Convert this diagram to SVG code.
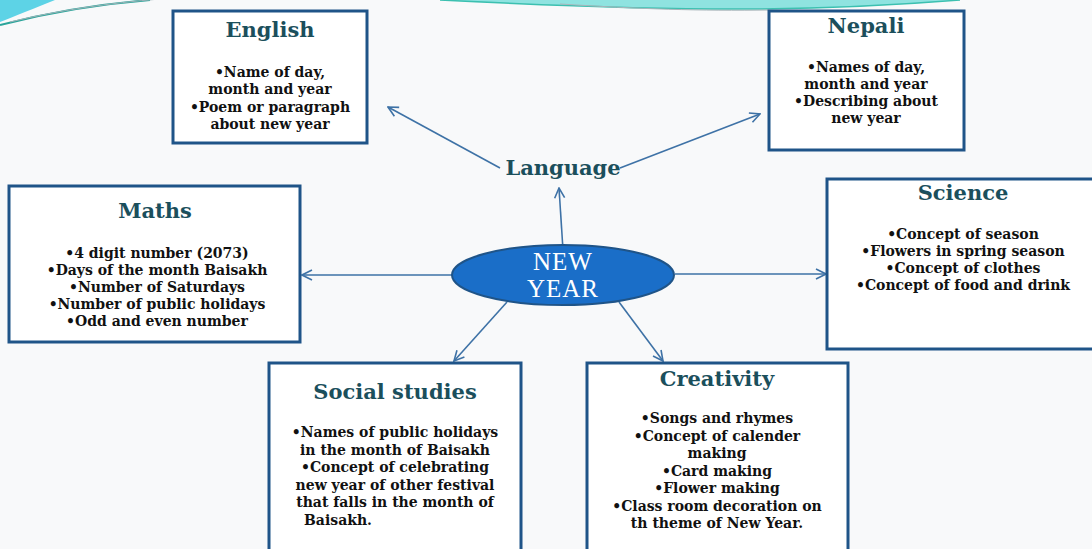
<svg xmlns="http://www.w3.org/2000/svg" width="1092" height="549" viewBox="0 0 1092 549">
<style>
.box{fill:#ffffff;stroke:#1f5488;stroke-width:3}
.title{font-family:"DejaVu Serif",serif;font-size:21px;font-weight:bold;fill:#1b4f5c;text-anchor:middle}
.body{font-family:"DejaVu Serif",serif;font-size:14px;font-weight:bold;fill:#111111;text-anchor:middle}
.conn{stroke:#3e72a6;stroke-width:1.6;fill:none;marker-end:url(#ah)}
</style>
<defs>
<marker id="ah" viewBox="0 0 12 12" refX="11" refY="6" markerWidth="12" markerHeight="12" markerUnits="userSpaceOnUse" orient="auto">
<path d="M1,1 L11,6 L1,11" fill="none" stroke="#3e72a6" stroke-width="1.6"/>
</marker>
</defs>
<rect width="1092" height="549" fill="#f8f9fa"/>
<g id="decoration">
<path d="M0,0 L55,0 C35,8 15,16 0,22 Z" fill="#5dd3e6"/>
<path d="M0,25 C50,12 100,4 150,0" fill="none" stroke="#2aa59a" stroke-width="2"/>
<path d="M10,22 C60,10 110,3 160,-1" fill="none" stroke="#9fb3b8" stroke-width="1"/>
<path d="M440,0 C560,6 660,10 760,9 C850,8 910,4 960,0 Z" fill="#8fe3e0"/>
<path d="M440,0 C560,6 660,10 760,9 C850,8 910,4 960,0" fill="none" stroke="#3cc0b0" stroke-width="1.5"/>
<path d="M560,4 C640,9 700,11 770,10" fill="none" stroke="#a9b6bb" stroke-width="1"/>
</g>
<g id="connectors">
<line class="conn" x1="500" y1="168" x2="388" y2="107"/>
<line class="conn" x1="620" y1="168" x2="760" y2="114"/>
<line class="conn" x1="563" y1="250" x2="559" y2="188"/>
<line class="conn" x1="470" y1="275" x2="302" y2="275"/>
<line class="conn" x1="675" y1="274" x2="826" y2="274"/>
<line class="conn" x1="507" y1="302" x2="454" y2="361"/>
<line class="conn" x1="619" y1="302" x2="663" y2="361"/>
</g>
<g id="language">
<text x="563" y="175" class="title">Language</text>
</g>
<g id="new-year">
<ellipse cx="563" cy="275" rx="111" ry="30" fill="#1a6ec8" stroke="#1f5488" stroke-width="2"/>
<text x="563" y="270" font-family="Liberation Serif,serif" font-size="25" letter-spacing="1" fill="#ffffff" text-anchor="middle">NEW</text>
<text x="563" y="297" font-family="Liberation Serif,serif" font-size="25" letter-spacing="1" fill="#ffffff" text-anchor="middle">YEAR</text>
</g>
<g id="english">
<rect class="box" x="173" y="11" width="194" height="132"/>
<text class="title" x="270" y="37">English</text>
<text class="body" x="270" y="77">•Name of day,</text>
<text class="body" x="270" y="94">month and year</text>
<text class="body" x="270" y="112">•Poem or paragraph</text>
<text class="body" x="270" y="129">about new year</text>
</g>
<g id="nepali">
<rect class="box" x="769" y="11" width="195" height="139"/>
<text class="title" x="866" y="33">Nepali</text>
<text class="body" x="866" y="72">•Names of day,</text>
<text class="body" x="866" y="89">month and year</text>
<text class="body" x="866" y="106">•Describing about</text>
<text class="body" x="866" y="123">new year</text>
</g>
<g id="maths">
<rect class="box" x="9" y="186" width="291" height="156"/>
<text class="title" x="155" y="218">Maths</text>
<text class="body" x="157" y="258">•4 digit number (2073)</text>
<text class="body" x="157" y="275">•Days of the month Baisakh</text>
<text class="body" x="157" y="292">•Number of Saturdays</text>
<text class="body" x="157" y="309">•Number of public holidays</text>
<text class="body" x="157" y="326">•Odd and even number</text>
</g>
<g id="science">
<rect class="box" x="827" y="179" width="270" height="170"/>
<text class="title" x="963" y="200">Science</text>
<text class="body" x="963" y="239">•Concept of season</text>
<text class="body" x="963" y="256">•Flowers in spring season</text>
<text class="body" x="963" y="273">•Concept of clothes</text>
<text class="body" x="963" y="290">•Concept of food and drink</text>
</g>
<g id="social-studies">
<rect class="box" x="269" y="363" width="252" height="195"/>
<text class="title" x="395" y="399">Social studies</text>
<text class="body" x="395" y="437">•Names of public holidays</text>
<text class="body" x="395" y="455">in the month of Baisakh</text>
<text class="body" x="395" y="472">•Concept of  celebrating</text>
<text class="body" x="395" y="490">new year of other festival</text>
<text class="body" x="395" y="507">that falls in the month of</text>
<text class="body" x="338" y="525" text-anchor="start">Baisakh.</text>
</g>
<g id="creativity">
<rect class="box" x="587" y="363" width="261" height="195"/>
<text class="title" x="717" y="386">Creativity</text>
<text class="body" x="717" y="423">•Songs and rhymes</text>
<text class="body" x="717" y="441">•Concept of calender</text>
<text class="body" x="717" y="458">making</text>
<text class="body" x="717" y="476">•Card making</text>
<text class="body" x="717" y="493">•Flower making</text>
<text class="body" x="717" y="511">•Class room decoration on</text>
<text class="body" x="717" y="528">th theme of New Year.</text>
</g>
</svg>
